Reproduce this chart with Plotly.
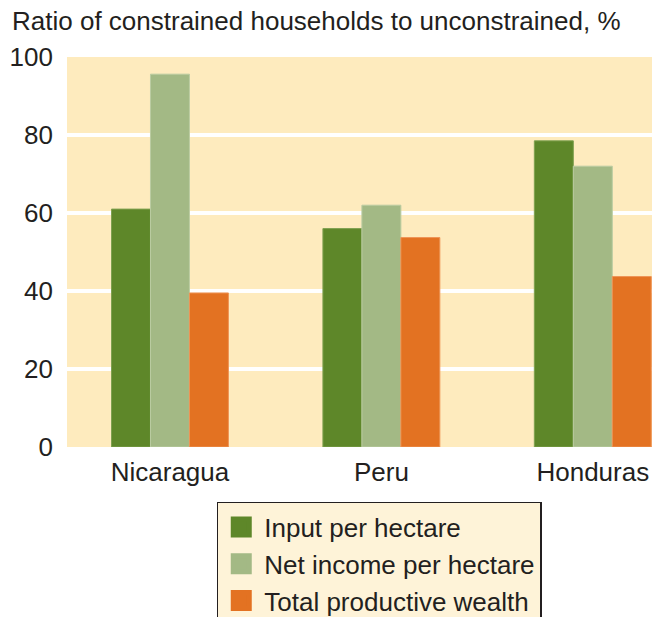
import plotly.graph_objects as go

categories = ["Nicaragua", "Peru", "Honduras"]
series_names = ["Input per hectare", "Net income per hectare", "Total productive wealth"]
input_per_hectare = [61, 56, 78.5]
net_income_per_hectare = [95.6, 62, 72]
total_productive_wealth = [39.5, 53.7, 43.7]
y_ticks = [0, 20, 40, 60, 80, 100]

colors = ["#5E8729", "#A3B985", "#E37222"]
edge_colors = ["#7FA050", "#BBCCA2", "#EE9456"]
FONT = "Liberation Sans, Arial, sans-serif"
FS = 26

fig = go.Figure()
for name, vals, c, ec in zip(series_names,
                             [input_per_hectare, net_income_per_hectare, total_productive_wealth],
                             colors, edge_colors):
    fig.add_trace(go.Bar(x=categories, y=vals, name=name, marker_color=c,
                         marker_line=dict(color=ec, width=1), showlegend=False))
    fig.add_trace(go.Scatter(x=[None], y=[None], mode="markers", name=name,
                             marker=dict(symbol="square", size=26, color=c,
                                         line=dict(color=c, width=10))))

fig.update_layout(
    width=652, height=630,
    margin=dict(l=67, r=0, t=57, b=183),
    paper_bgcolor="white",
    plot_bgcolor="#FEEBBE",
    barmode="group",
    bargap=0.447,
    bargroupgap=0,
    font=dict(family=FONT, size=FS, color="#231F20"),
    xaxis=dict(range=[-0.487, 2.28], showgrid=False, zeroline=False, showline=False,
               ticks="", tickfont=dict(size=FS), ticklabelstandoff=7),
    yaxis=dict(range=[0, 100], tickvals=y_ticks, gridcolor="white", gridwidth=4,
               zeroline=False, showline=False, ticks="", ticklen=0,
               tickfont=dict(size=FS), ticklabelstandoff=13),
    legend=dict(x=0.256, y=-0.141, xanchor="left", yanchor="top",
                bgcolor="#FEF3D8", bordercolor="#231F20", borderwidth=1.5,
                font=dict(size=FS), tracegroupgap=0, itemwidth=36),
    annotations=[dict(text="Ratio of constrained households to unconstrained, %",
                      xref="paper", yref="paper", x=-0.0974, y=1.0923, xanchor="left",
                      yanchor="middle", showarrow=False,
                      font=dict(size=FS, family=FONT, color="#231F20"))],
)

fig.write_html("out.html", config={"displayModeBar": False},
               post_script="document.body.style.margin='0';document.body.style.overflow='hidden';")
